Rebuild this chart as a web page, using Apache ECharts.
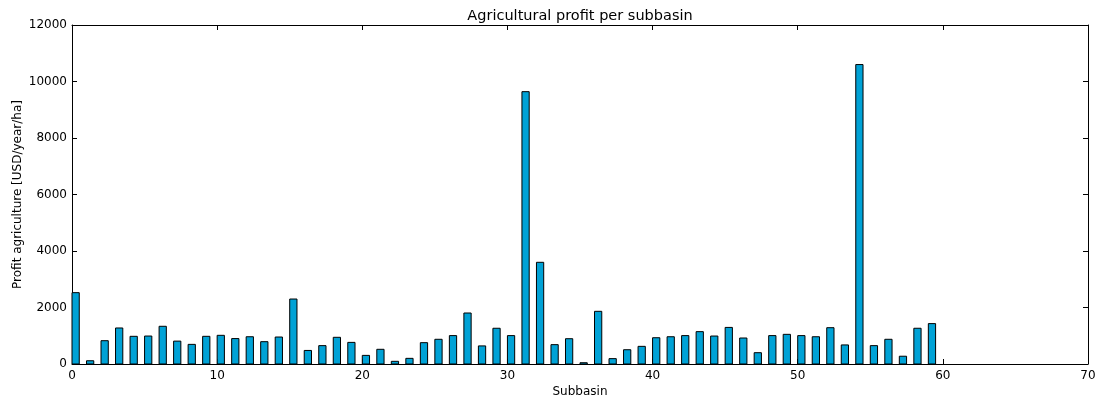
<!DOCTYPE html>
<html>
<head>
<meta charset="utf-8">
<script src="https://cdn.jsdelivr.net/npm/echarts@6/dist/echarts.min.js"></script>
<style>html,body{margin:0;padding:0;background:#fff}#c{width:1103px;height:398px}</style>
</head>
<body>
<div id="c"></div>
<script>
const subbasins = [0,1,2,3,4,5,6,7,8,9,10,11,12,13,14,15,16,17,18,19,20,21,22,23,24,25,26,27,28,29,30,31,32,33,34,35,36,37,38,39,40,41,42,43,44,45,46,47,48,49,50,51,52,53,54,55,56,57,58,59];
const profit = [2525,115,825,1275,980,990,1335,810,695,980,1015,900,965,790,955,2300,480,650,945,765,305,520,95,200,755,875,1005,1805,640,1265,1005,9640,3600,685,895,45,1865,190,505,625,930,965,1005,1145,990,1295,920,400,1005,1050,1005,965,1285,675,10600,650,875,275,1265,1430];
const xTicks = {min:0, max:70, interval:10};
const yTicks = {min:0, max:12000, interval:2000};

const chart = echarts.init(document.getElementById('c'), null, {renderer:'canvas'});
const font = 'DejaVu Sans';
const axisLine = {show:true, onZero:false, lineStyle:{color:'#000', width:1}};
const tick = {show:true, inside:true, length:5, lineStyle:{color:'#000', width:1}};
chart.setOption({
  animation:false,
  backgroundColor:'#fff',
  graphic:[{type:'text', x:580, y:9, style:{text:'Agricultural profit per subbasin',
    font:'14.5px "DejaVu Sans"', fill:'#000', textAlign:'center', textVerticalAlign:'top'}}],
  grid:{left:72, right:15, top:25, bottom:34, containLabel:false, outerBoundsMode:'none'},
  xAxis:[
    {type:'value', min:xTicks.min, max:xTicks.max, interval:xTicks.interval, position:'bottom',
     name:'Subbasin', nameLocation:'middle', nameGap:22, nameMoveOverlap:false,
     nameTextStyle:{fontFamily:font, fontSize:12, color:'#000'},
     axisLine:axisLine, axisTick:tick, splitLine:{show:false},
     axisLabel:{fontFamily:font, fontSize:12, color:'#000', margin:6}},
    {type:'value', min:xTicks.min, max:xTicks.max, interval:xTicks.interval, position:'top',
     axisLine:axisLine, axisTick:tick, splitLine:{show:false}, axisLabel:{show:false}}
  ],
  yAxis:[
    {type:'value', min:yTicks.min, max:yTicks.max, interval:yTicks.interval, position:'left',
     name:'Profit agriculture [USD/year/ha]', nameLocation:'middle', nameGap:48, nameRotate:90,
     nameMoveOverlap:false,
     nameTextStyle:{fontFamily:font, fontSize:12, color:'#000'},
     axisLine:axisLine, axisTick:tick, splitLine:{show:false},
     axisLabel:{fontFamily:font, fontSize:12, color:'#000', margin:5, formatter:v=>String(v)}},
    {type:'value', min:yTicks.min, max:yTicks.max, interval:yTicks.interval, position:'right',
     axisLine:axisLine, axisTick:tick, splitLine:{show:false}, axisLabel:{show:false}}
  ],
  series:[{
    type:'custom',
    xAxisIndex:0, yAxisIndex:0,
    data: subbasins.map((s,i)=>[s, profit[i]]),
    renderItem:function(params, api){
      const x = api.value(0), v = api.value(1);
      const p0 = api.coord([x, v]);
      const p1 = api.coord([x + 0.5, 0]);
      return {type:'rect', shape:{x:p0[0], y:p0[1], width:p1[0]-p0[0], height:p1[1]-p0[1]},
        style:{fill:'#00a2d6', stroke:'#000', lineWidth:1}};
    }
  }]
});
</script>
</body>
</html>
